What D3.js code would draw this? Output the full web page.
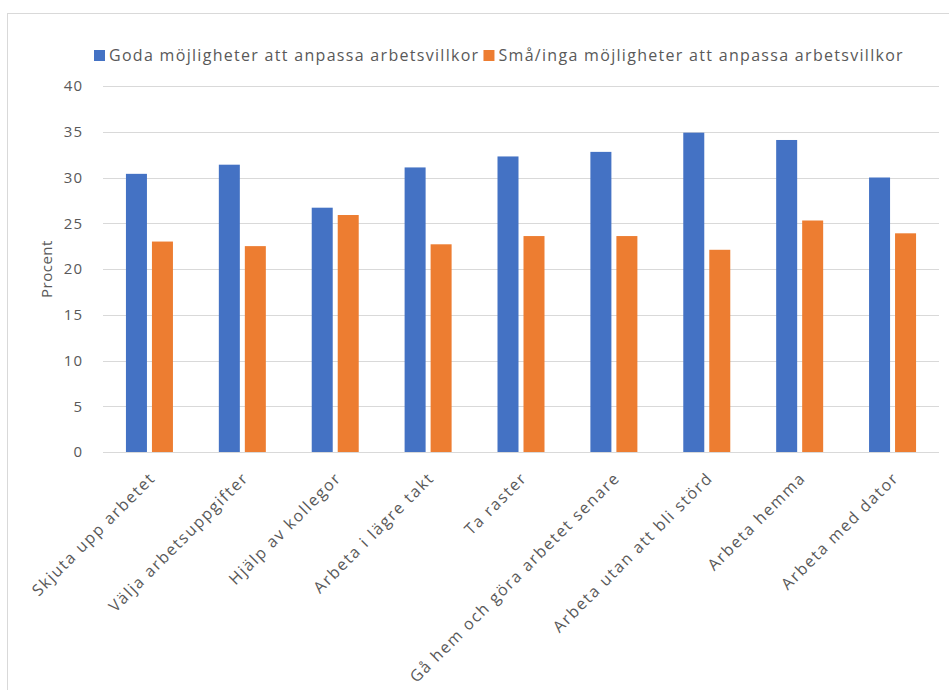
<!DOCTYPE html>
<html>
<head>
<meta charset="utf-8">
<script src="https://cdn.jsdelivr.net/npm/d3@7"></script>
<style>
  body { margin: 0; background: #fff; }
  text { font-family: "Open Sans", sans-serif; }
</style>
</head>
<body>
<script>
var categories = ['Skjuta upp arbetet', 'Välja arbetsuppgifter', 'Hjälp av kollegor', 'Arbeta i lägre takt',
  'Ta raster', 'Gå hem och göra arbetet senare', 'Arbeta utan att bli störd', 'Arbeta hemma', 'Arbeta med dator'];
var goda = [30.4, 31.4, 26.7, 31.1, 32.3, 32.8, 34.9, 34.1, 30.0];
var sma = [23.0, 22.5, 25.9, 22.7, 23.6, 23.6, 22.1, 25.3, 23.9];
var seriesNames = ['Goda möjligheter att anpassa arbetsvillkor', 'Små/inga möjligheter att anpassa arbetsvillkor'];
var yTicks = [0, 5, 10, 15, 20, 25, 30, 35, 40];
var colors = ['#4472c4', '#ed7d31'];

var w = 949, h = 690;
var plotLeft = 103, plotRight = 939, plotTop = 86, plotBottom = 452;

var svg = d3.select('body').append('svg')
  .attr('width', w)
  .attr('height', h);

// chart frame
svg.append('rect')
  .attr('x', 7.5).attr('y', 13.5)
  .attr('width', 960).attr('height', 700)
  .attr('fill', 'none')
  .attr('stroke', '#d9d9d9');

var x = d3.scaleBand().domain(categories).range([plotLeft, plotRight]);
var y = d3.scaleLinear().domain([0, 40]).range([plotBottom, plotTop]);

// gridlines
svg.append('g')
  .selectAll('line')
  .data(yTicks)
  .enter()
  .append('line')
  .attr('x1', plotLeft).attr('x2', plotRight)
  .attr('y1', d => Math.round(y(d)) + 0.5)
  .attr('y2', d => Math.round(y(d)) + 0.5)
  .attr('stroke', '#d9d9d9')
  .attr('stroke-width', 1);

// y axis labels
var yAxis = svg.append('g')
  .attr('transform', 'translate(' + (plotLeft - 17) + ',0)')
  .call(d3.axisLeft(y).tickValues(yTicks).tickSize(0));
yAxis.select('.domain').remove();
yAxis.selectAll('text')
  .attr('fill', '#595959')
  .style('font-size', '15px')
  .style('letter-spacing', '1px');

svg.append('text')
  .attr('transform', 'translate(52,' + ((plotTop + plotBottom) / 2) + ') rotate(-90)')
  .attr('text-anchor', 'middle')
  .attr('fill', '#595959')
  .style('font-size', '15px')
  .style('letter-spacing', '0.5px')
  .text('Procent');

var barW = 21;
var gap = 5;
var series = [goda, sma];

series.forEach((vals, si) => {
  svg.append('g')
    .selectAll('rect')
    .data(vals)
    .enter()
    .append('rect')
    .attr('x', (d, i) => x(categories[i]) + x.bandwidth() / 2 + (si === 0 ? -barW - gap / 2 : gap / 2))
    .attr('y', d => y(d))
    .attr('width', barW)
    .attr('height', d => plotBottom - y(d))
    .attr('fill', colors[si]);
});

// x axis labels
var xAxis = svg.append('g')
  .attr('transform', 'translate(0,' + plotBottom + ')')
  .call(d3.axisBottom(x).tickSize(0));
xAxis.select('.domain').remove();
xAxis.selectAll('text')
  .attr('fill', '#595959')
  .style('font-size', '16px')
  .style('letter-spacing', '1.6px')
  .attr('text-anchor', 'end')
  .attr('dy', '0.35em')
  .attr('transform', 'translate(1,21) rotate(-45)');

// legend
var legend = svg.append('g').attr('transform', 'translate(94,50)');
var lx = 0;
seriesNames.forEach((name, i) => {
  var item = legend.append('g').attr('transform', 'translate(' + lx + ',0)');
  item.append('rect')
    .attr('width', 11).attr('height', 11)
    .attr('fill', colors[i]);
  var t = item.append('text')
    .attr('x', 15).attr('y', 11)
    .attr('fill', '#595959')
    .style('font-size', '16px')
    .style('letter-spacing', '1.3px')
    .text(name);
  lx += 15 + t.node().getComputedTextLength() + 4;
});
</script>
</body>
</html>
